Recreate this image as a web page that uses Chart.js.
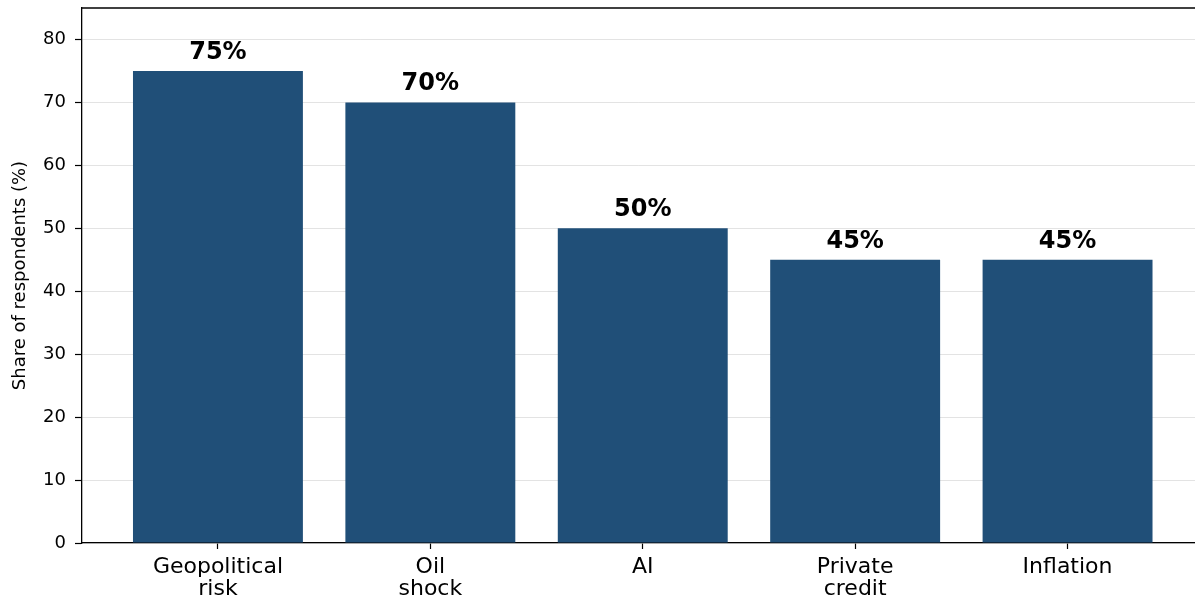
<!DOCTYPE html>
<html>
<head>
<meta charset="utf-8">
<script src="https://cdn.jsdelivr.net/npm/chart.js@4.4.1/dist/chart.umd.min.js"></script>
<style>
  html, body { margin: 0; padding: 0; background: #fff; overflow: hidden; }
  #wrap { width: 1195px; height: 598px; }
</style>
</head>
<body>
<div id="wrap"><canvas id="riskChart"></canvas></div>
<script>
// chart values
var categories = [['Geopolitical', 'risk'], ['Oil', 'shock'], 'AI', ['Private', 'credit'], 'Inflation'];
var shares = [75, 70, 50, 45, 45];
var yTicks = [0, 10, 20, 30, 40, 50, 60, 70, 80];

var barColor = '#204f78';

/**
 * Writes the percentage above each bar.
 */
var valueLabels = {
    id: 'valueLabels',
    afterDatasetsDraw: function(chart) {
        var ctx = chart.ctx;
        var meta = chart.getDatasetMeta(0);
        ctx.save();
        ctx.fillStyle = '#000';
        ctx.font = 'bold 24px "DejaVu Sans"';
        ctx.textAlign = 'center';
        ctx.textBaseline = 'alphabetic';
        meta.data.forEach(function(bar, i) {
            ctx.fillText(shares[i] + '%', bar.x, bar.y - 12);
        });
        ctx.restore();
    }
};

/**
 * Top spine of the frame.
 */
var topSpine = {
    id: 'topSpine',
    afterDraw: function(chart) {
        var a = chart.chartArea;
        var ctx = chart.ctx;
        ctx.save();
        ctx.strokeStyle = '#000';
        ctx.lineWidth = 1.3;
        ctx.beginPath();
        ctx.moveTo(a.left, a.top);
        ctx.lineTo(a.right, a.top);
        ctx.stroke();
        ctx.restore();
    }
};

var riskChart = new Chart(document.getElementById('riskChart').getContext('2d'), {
    type: 'bar',
    data: {
        datasets: [{
            label: 'Share of respondents',
            data: shares.map(function(v, i) { return { x: i, y: v }; }),
            backgroundColor: barColor,
            borderWidth: 0,
            barPercentage: 0.8,
            categoryPercentage: 1
        }]
    },
    options: {
        responsive: true,
        maintainAspectRatio: false,
        animation: false,
        layout: { padding: { top: 8, right: 0, bottom: 0, left: 0 } },
        plugins: {
            legend: { display: false },
            tooltip: { enabled: false }
        },
        scales: {
            x: {
                type: 'linear',
                offset: false,
                min: -0.64,
                max: 4.6,
                afterBuildTicks: function(scale) {
                    scale.ticks = categories.map(function(c, i) { return { value: i }; });
                },
                afterFit: function(scale) {
                    scale.height = 55;
                    scale.paddingLeft = 0;
                    scale.paddingRight = 0;
                },
                grid: { offset: false, drawOnChartArea: false, tickLength: 6, tickColor: '#000', tickWidth: 1.2 },
                border: { color: '#000', width: 1.3 },
                ticks: {
                    color: '#000',
                    padding: 7,
                    maxRotation: 0,
                    autoSkip: false,
                    font: { family: 'DejaVu Sans', size: 22, lineHeight: 1.0 },
                    callback: function(value) { return categories[value]; }
                }
            },
            y: {
                min: 0,
                max: 85,
                z: 1,
                afterBuildTicks: function(scale) {
                    scale.ticks = yTicks.map(function(v) { return { value: v }; });
                },
                afterFit: function(scale) {
                    scale.width = 82;
                    scale.paddingTop = 0;
                    scale.paddingBottom = 0;
                },
                grid: { color: 'rgba(200,200,200,0.5)', lineWidth: 1, tickLength: 7, tickColor: '#000', tickWidth: 1.2 },
                border: { color: '#000', width: 1.3 },
                ticks: {
                    color: '#000',
                    padding: 9,
                    font: { family: 'DejaVu Sans', size: 18 }
                },
                title: {
                    display: true,
                    text: 'Share of respondents (%)',
                    color: '#000',
                    padding: { top: 10, bottom: 0 },
                    font: { family: 'DejaVu Sans', size: 18 }
                }
            }
        }
    },
    plugins: [valueLabels, topSpine]
});
</script>
</body>
</html>
